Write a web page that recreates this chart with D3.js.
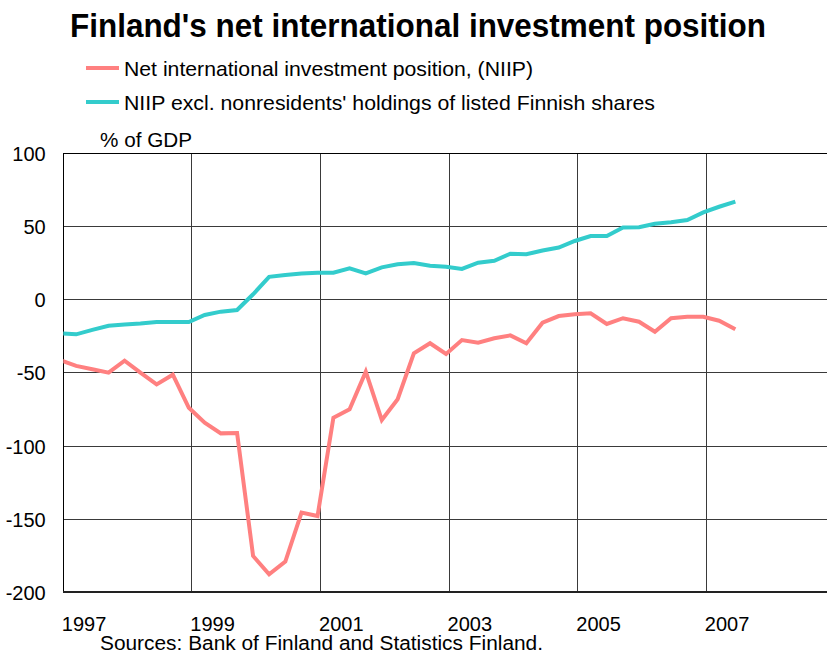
<!DOCTYPE html>
<html>
<head>
<meta charset="utf-8">
<script src="https://cdn.jsdelivr.net/npm/d3@7"></script>
<style>
  body { margin: 0; background: #fff; }
  svg { display: block; font-family: "Liberation Sans", Arial, sans-serif; }
</style>
</head>
<body>
<svg id="chart" width="827" height="654"></svg>
<script>
// Quarter-end observations (year-month)
const quarters = [
  "1996-12",
  "1997-03","1997-06","1997-09","1997-12",
  "1998-03","1998-06","1998-09","1998-12",
  "1999-03","1999-06","1999-09","1999-12",
  "2000-03","2000-06","2000-09","2000-12",
  "2001-03","2001-06","2001-09","2001-12",
  "2002-03","2002-06","2002-09","2002-12",
  "2003-03","2003-06","2003-09","2003-12",
  "2004-03","2004-06","2004-09","2004-12",
  "2005-03","2005-06","2005-09","2005-12",
  "2006-03","2006-06","2006-09","2006-12",
  "2007-03","2007-06"
];

// Net international investment position, % of GDP
const niip = [
  -41.3,
  -45.2, -47.5, -49.8, -41.6,
  -49.8, -57.8, -51.2, -73.8,
  -84.0, -91.3, -91.0, -175.1,
  -187.6, -178.9, -145.5, -147.8,
  -80.6, -74.8, -49.1, -82.2,
  -68.0, -36.6, -29.7, -37.0,
  -27.5, -29.3, -26.3, -24.3,
  -29.7, -15.7, -11.1, -9.9,
  -9.2, -16.5, -12.6, -15.0,
  -21.8, -12.6, -11.6, -11.6,
  -14.3, -20.2
];

// NIIP excluding nonresidents' holdings of listed Finnish shares, % of GDP
const niipExcl = [
  -22.9,
  -23.6, -20.6, -17.7, -16.9,
  -16.2, -15.2, -15.2, -15.2,
  -10.4, -8.1, -7.0, 3.8,
  15.7, 17.0, 18.0, 18.5,
  18.5, 21.5, 18.1, 22.2,
  24.3, 25.2, 23.3, 22.6,
  21.1, 25.4, 26.7, 31.5,
  31.1, 33.7, 35.7, 40.2,
  43.6, 43.6, 49.4, 49.6,
  52.0, 53.0, 54.5, 59.7,
  63.6, 67.1
];

const yTicks = [100, 50, 0, -50, -100, -150, -200];
const yearTicks = ["1997", "1999", "2001", "2003", "2005", "2007"];

const seriesNames = [
  "Net international investment position, (NIIP)",
  "NIIP excl. nonresidents' holdings of listed Finnish shares"
];
const seriesColors = ["#ff8080", "#33cccc"];

const parseMonth = d3.timeParse("%Y-%m");
const dates = quarters.map(q => { const d = parseMonth(q); d.setDate(15); return d; });
const yearDates = yearTicks.map(y => new Date(+y, 0, 1));

const svg = d3.select("#chart");
const plot = { left: 63.3, top: 153.5, right: 835, bottom: 592.4 };

const x = d3.scaleTime()
  .domain([new Date(1997, 0, 1), new Date(2009, 0, 1)])
  .range([plot.left, plot.right]);
const y = d3.scaleLinear()
  .domain([-200, 100])
  .range([plot.bottom, plot.top]);

svg.append("defs").append("clipPath").attr("id", "plotClip")
  .append("rect")
  .attr("x", plot.left).attr("y", plot.top)
  .attr("width", plot.right - plot.left).attr("height", plot.bottom - plot.top);

// Grid
const grid = svg.append("g").attr("shape-rendering", "crispEdges");
grid.selectAll("line.h").data(yTicks.filter(v => v > -200 && v < 100)).join("line")
  .attr("class", "h")
  .attr("x1", plot.left).attr("x2", plot.right)
  .attr("y1", d => y(d)).attr("y2", d => y(d))
  .attr("stroke", "#3a3a3a").attr("stroke-width", 1);
grid.selectAll("line.v").data(yearDates.slice(1)).join("line")
  .attr("class", "v")
  .attr("x1", d => x(d)).attr("x2", d => x(d))
  .attr("y1", plot.top).attr("y2", plot.bottom)
  .attr("stroke", "#3a3a3a").attr("stroke-width", 1);

// Plot frame
grid.append("line").attr("x1", plot.left).attr("x2", plot.right)
  .attr("y1", plot.top).attr("y2", plot.top).attr("stroke", "#000");
grid.append("line").attr("x1", plot.left).attr("x2", plot.left)
  .attr("y1", plot.top).attr("y2", plot.bottom).attr("stroke", "#000");
grid.append("line").attr("x1", plot.left).attr("x2", plot.right)
  .attr("y1", plot.bottom).attr("y2", plot.bottom).attr("stroke", "#222").attr("stroke-width", 2);

// Y axis labels (plain hyphen for negatives)
const yAxis = svg.append("g")
  .attr("transform", `translate(${plot.left},0)`)
  .call(d3.axisLeft(y).tickValues(yTicks).tickSize(0).tickPadding(17.6).tickFormat(d => String(d)));
yAxis.select(".domain").remove();
yAxis.selectAll("text")
  .attr("font-size", 20).attr("font-family", "Liberation Sans, Arial, sans-serif")
  .attr("fill", "#000").attr("dy", "0.35em");

// X axis labels (year labels start at their gridline)
const xAxis = svg.append("g")
  .attr("transform", `translate(0,${plot.bottom})`)
  .call(d3.axisBottom(x).tickValues(yearDates).tickSize(0).tickFormat(d3.timeFormat("%Y")));
xAxis.select(".domain").remove();
xAxis.selectAll("text")
  .attr("font-size", 20).attr("font-family", "Liberation Sans, Arial, sans-serif")
  .attr("fill", "#000").attr("text-anchor", "start")
  .attr("dx", -2).attr("dy", null).attr("y", 38.2);

// Lines
const line = d3.line().x((d, i) => x(dates[i])).y(d => y(d));
const lines = svg.append("g").attr("clip-path", "url(#plotClip)");
[niip, niipExcl].forEach((s, k) => {
  lines.append("path").datum(s)
    .attr("d", line)
    .attr("fill", "none")
    .attr("stroke", seriesColors[k])
    .attr("stroke-width", 4)
    .attr("stroke-linejoin", "miter");
});

// Title
svg.append("text")
  .attr("x", 418).attr("y", 37)
  .attr("text-anchor", "middle")
  .attr("font-size", 34).attr("font-weight", "bold")
  .attr("textLength", 696).attr("lengthAdjust", "spacingAndGlyphs")
  .text("Finland's net international investment position");

// Legend
const legend = svg.append("g");
const legendY = [68, 102];
const legendWidths = [409, 531];
seriesNames.forEach((name, k) => {
  legend.append("line")
    .attr("x1", 86).attr("x2", 119)
    .attr("y1", legendY[k]).attr("y2", legendY[k])
    .attr("stroke", seriesColors[k]).attr("stroke-width", 4);
  legend.append("text")
    .attr("x", 124).attr("y", legendY[k] + 7.5)
    .attr("font-size", 21)
    .attr("textLength", legendWidths[k]).attr("lengthAdjust", "spacingAndGlyphs")
    .text(name);
});

// Unit label and source
svg.append("text").attr("x", 100).attr("y", 147).attr("font-size", 20)
  .attr("textLength", 92).attr("lengthAdjust", "spacingAndGlyphs")
  .text("% of GDP");
svg.append("text").attr("x", 100).attr("y", 650).attr("font-size", 20)
  .attr("textLength", 443).attr("lengthAdjust", "spacingAndGlyphs")
  .text("Sources: Bank of Finland and Statistics Finland.");
</script>
</body>
</html>
